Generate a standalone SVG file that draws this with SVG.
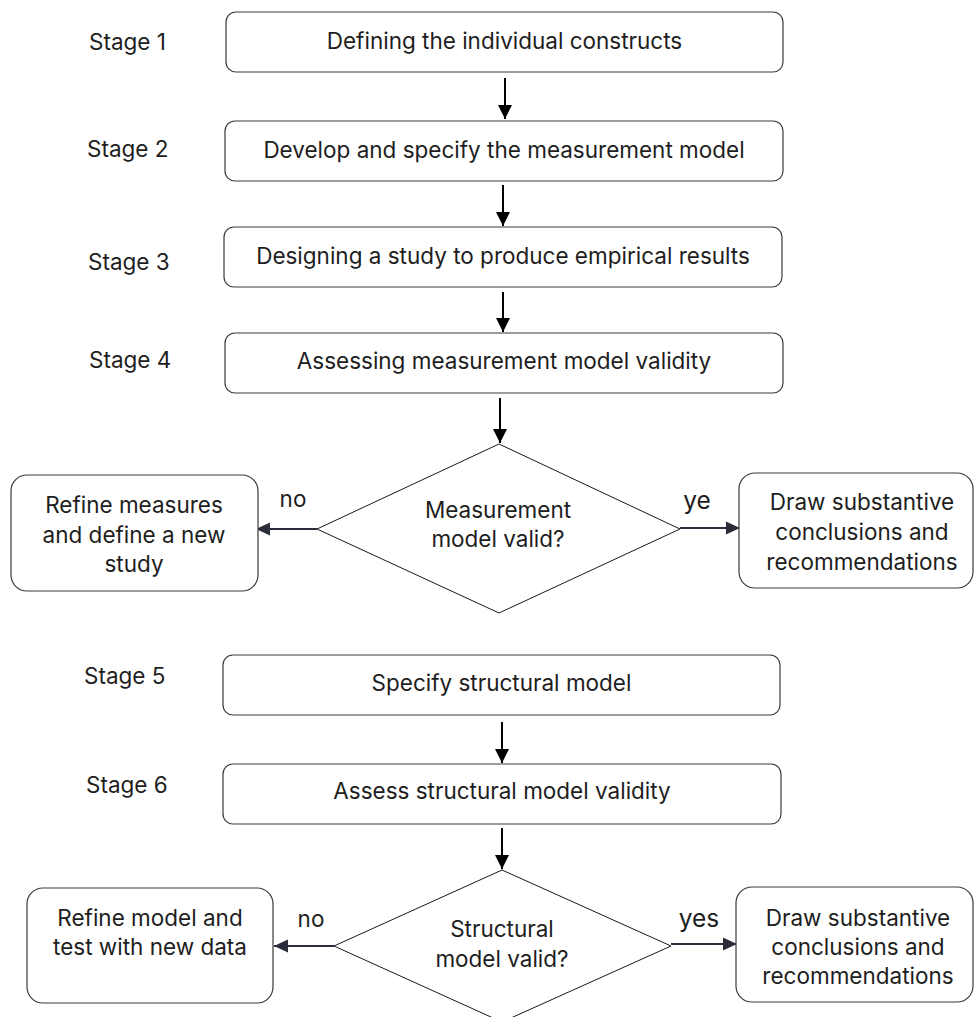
<svg xmlns="http://www.w3.org/2000/svg" width="974" height="1017" viewBox="0 0 974 1017">
<style>
  text { font-family: Inter, Roboto, "Liberation Sans", sans-serif; font-size: 22.5px; fill: #1e1e1e; }
  .c { text-anchor: middle; }
  .box { fill: #ffffff; stroke: #3a3a3a; stroke-width: 1.2; }
  .dia { fill: #ffffff; stroke: #1a1a1a; stroke-width: 1; }
  .v { stroke: #000000; stroke-width: 2; fill: none; }
  .h { stroke: #2b2d3a; stroke-width: 2.2; fill: none; }
  .big { font-size: 24.5px; }
</style>
<defs>
  <marker id="ab" markerUnits="userSpaceOnUse" markerWidth="14" markerHeight="14" viewBox="0 0 14 14" refX="14" refY="7" orient="auto">
    <path d="M0,0 L14,7 L0,14 Z" fill="#000000"/>
  </marker>
  <marker id="an" markerUnits="userSpaceOnUse" markerWidth="14" markerHeight="14" viewBox="0 0 14 14" refX="14" refY="7" orient="auto">
    <path d="M0,0.5 L14,7 L0,13.5 Z" fill="#2b2d3a"/>
  </marker>
</defs>
<rect width="974" height="1017" fill="#ffffff"/>

<g id="stage-labels">
  <text x="89" y="50">Stage 1</text>
  <text x="87" y="157">Stage 2</text>
  <text x="88" y="270">Stage 3</text>
  <text x="89" y="368">Stage 4</text>
  <text x="84" y="684">Stage 5</text>
  <text x="86" y="793">Stage 6</text>
</g>

<g id="connectors">
  <line class="v" x1="505" y1="78" x2="505" y2="119" marker-end="url(#ab)"/>
  <line class="v" x1="503" y1="185" x2="503" y2="226" marker-end="url(#ab)"/>
  <line class="v" x1="503" y1="292" x2="503" y2="332" marker-end="url(#ab)"/>
  <line class="v" x1="500" y1="398" x2="500" y2="443" marker-end="url(#ab)"/>
  <line class="h" x1="317" y1="529" x2="256" y2="529" marker-end="url(#an)"/>
  <line class="h" x1="680" y1="528" x2="740" y2="528" marker-end="url(#an)"/>
  <line class="v" x1="502" y1="722" x2="502" y2="763" marker-end="url(#ab)"/>
  <line class="v" x1="502" y1="828" x2="502" y2="869" marker-end="url(#ab)"/>
  <line class="h" x1="334" y1="946" x2="274" y2="946" marker-end="url(#an)"/>
  <line class="h" x1="671" y1="944" x2="737" y2="944" marker-end="url(#an)"/>
  <text x="293" y="507" class="c">no</text>
  <text x="697" y="509" class="c big">ye</text>
  <text x="311" y="927" class="c">no</text>
  <text x="699" y="927" class="c big">yes</text>
</g>

<g id="stage1">
  <rect class="box" x="226" y="12" width="557" height="60" rx="10"/>
  <text x="504.5" y="49" class="c">Defining the individual constructs</text>
</g>
<g id="stage2">
  <rect class="box" x="225" y="121" width="558" height="60" rx="10"/>
  <text x="504" y="158" class="c">Develop and specify the measurement model</text>
</g>
<g id="stage3">
  <rect class="box" x="224" y="227" width="558" height="60" rx="10"/>
  <text x="503" y="264" class="c">Designing a study to produce empirical results</text>
</g>
<g id="stage4">
  <rect class="box" x="225" y="333" width="558" height="60" rx="10"/>
  <text x="504" y="369" class="c">Assessing measurement model validity</text>
</g>
<g id="decision1">
  <polygon class="dia" points="499,444 680,529 499,613 317,529"/>
  <text x="498" y="518" class="c">Measurement</text>
  <text x="498" y="547" class="c">model valid?</text>
</g>
<g id="refine1">
  <rect class="box" x="11" y="475" width="247" height="116" rx="16"/>
  <text x="134" y="513" class="c">Refine measures</text>
  <text x="134" y="543" class="c">and define a new</text>
  <text x="134" y="572" class="c">study</text>
</g>
<g id="conclude1">
  <rect class="box" x="739" y="473" width="234" height="115" rx="16"/>
  <text x="862" y="510" class="c">Draw substantive</text>
  <text x="862" y="540" class="c">conclusions and</text>
  <text x="862" y="570" class="c">recommendations</text>
</g>
<g id="stage5">
  <rect class="box" x="223" y="655" width="557" height="60" rx="10"/>
  <text x="501.5" y="691" class="c">Specify structural model</text>
</g>
<g id="stage6">
  <rect class="box" x="223" y="764" width="558" height="60" rx="10"/>
  <text x="502" y="799" class="c">Assess structural model validity</text>
</g>
<g id="decision2">
  <polygon class="dia" points="502,870 671,946 502,1022 334,946"/>
  <text x="502" y="937" class="c">Structural</text>
  <text x="502" y="967" class="c">model valid?</text>
</g>
<g id="refine2">
  <rect class="box" x="27" y="888" width="246" height="115" rx="16"/>
  <text x="150" y="926" class="c">Refine model and</text>
  <text x="150" y="955" class="c">test with new data</text>
</g>
<g id="conclude2">
  <rect class="box" x="736" y="887" width="237" height="115" rx="16"/>
  <text x="858" y="926" class="c">Draw substantive</text>
  <text x="858" y="955" class="c">conclusions and</text>
  <text x="858" y="984" class="c">recommendations</text>
</g>
</svg>
